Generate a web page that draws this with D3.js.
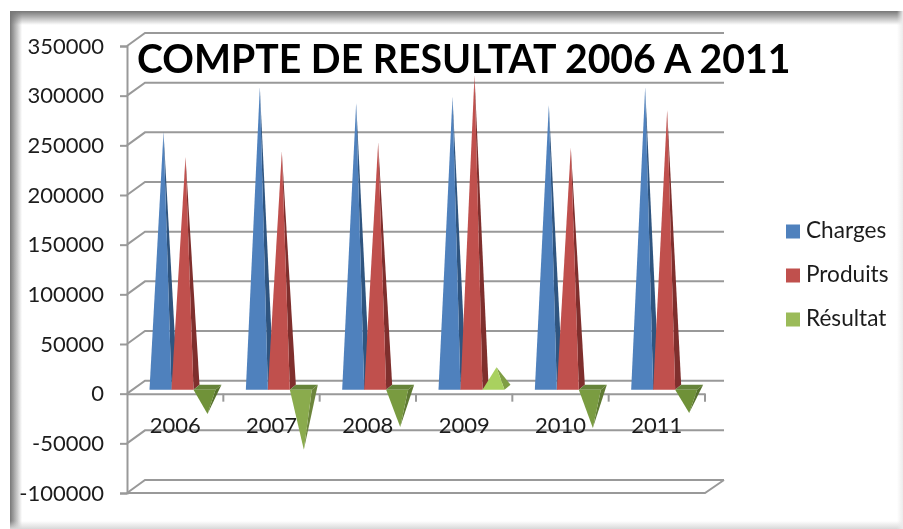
<!DOCTYPE html>
<html>
<head>
<meta charset="utf-8">
<script src="https://cdn.jsdelivr.net/npm/d3@7"></script>
<style>
  html, body { margin: 0; padding: 0; background: #fff; }
  svg { display: block; font-family: Lato, "Open Sans", sans-serif; filter: blur(0.45px); }
  .axis path, .axis line { stroke: #999; stroke-width: 2px; }
  .axis text { fill: #1c1c1c; font-size: 22px; font-family: Lato, sans-serif; }
</style>
</head>
<body>
<script>
//Data
var years = ["2006", "2007", "2008", "2009", "2010", "2011"];
var seriesNames = ["Charges", "Produits", "Résultat"];
var charges = [257000, 302000, 286000, 292000, 284000, 302000];
var produits = [232000, 237000, 246000, 314000, 241000, 279000];
var resultat = [-27000, -63000, -40000, 20000, -41000, -26000];
var yTicks = [-100000, -50000, 0, 50000, 100000, 150000, 200000, 250000, 300000, 350000];

//Width and height
var w = 903;
var h = 529;

//Plot box, and how far the 3D depth pushes things
var left = 127, right = 705, top_ = 46, bottom = 493;
var wallDx = 18, wallDy = -13;
var depthDx = 6, depthDy = -5;
var barOffset = 22.5;

var svg = d3.select("body").append("svg").attr("width", w).attr("height", h);
var defs = svg.append("defs");

//Shadow round the picture frame
function edge(id, x1, y1, x2, y2, from) {
  var g = defs.append("linearGradient").attr("id", id)
    .attr("x1", x1).attr("y1", y1).attr("x2", x2).attr("y2", y2);
  g.append("stop").attr("offset", 0).attr("stop-color", from);
  g.append("stop").attr("offset", 1).attr("stop-color", from).attr("stop-opacity", 0);
}
edge("shadeTop", 0, 0, 0, 1, "#777");
edge("shadeLeft", 0, 0, 1, 0, "#777");
edge("shadeBottom", 0, 1, 0, 0, "#d8d8d8");
edge("shadeRight", 1, 0, 0, 0, "#ececec");

var frame = svg.append("g");
frame.append("rect").attr("x", 10).attr("y", 11).attr("width", w - 10).attr("height", 14).attr("fill", "url(#shadeTop)");
frame.append("rect").attr("x", 10).attr("y", 11).attr("width", 12).attr("height", h - 11).attr("fill", "url(#shadeLeft)");
frame.append("rect").attr("x", 10).attr("y", h - 8).attr("width", w - 10).attr("height", 8).attr("fill", "url(#shadeBottom)");
frame.append("rect").attr("x", w - 6).attr("y", 11).attr("width", 6).attr("height", h - 11).attr("fill", "url(#shadeRight)");

//Create scale functions
var yScale = d3.scaleLinear().domain([-100000, 350000]).range([bottom, top_]);
var xScale = d3.scaleBand().domain(years).range([left, right]);
var xSeries = d3.scaleBand().domain(seriesNames).range([0, 66]);
var colors = d3.scaleOrdinal().domain(seriesNames).range(["#4f81bd", "#c0504d", "#9bbb59"]);
var sideColors = d3.scaleOrdinal().domain(seriesNames).range(["#2f5580", "#7f2f2d", "#5f7a30"]);

//Result cones get lighter the steeper they are, like the lit faces in the picture
var greenFace = d3.scaleLinear().domain([-63000, -26000]).range(["#8aab4d", "#6f9138"]);

//Back wall lines and the short diagonals on the side wall
var walls = svg.append("g").attr("fill", "none").attr("stroke", "#999").attr("stroke-width", 2);
walls.selectAll("path")
  .data(yTicks)
  .enter()
  .append("path")
  .attr("d", function (d) {
    var line = d3.path();
    line.moveTo(left, yScale(d));
    line.lineTo(left + wallDx, yScale(d) + wallDy);
    line.lineTo(right + wallDx + 1, yScale(d) + wallDy);
    return line.toString();
  });

//Bottom front edge
var floor = d3.path();
floor.moveTo(left, bottom);
floor.lineTo(right, bottom);
floor.lineTo(right + wallDx + 1, bottom + wallDy);
walls.append("path").attr("d", floor.toString());

//Create axes
var yAxis = d3.axisLeft(yScale).tickValues(yTicks).tickFormat(function (d) { return String(d); }).tickSize(7).tickPadding(16);
svg.append("g")
  .attr("class", "axis")
  .attr("transform", "translate(" + left + ",0)")
  .call(yAxis);

var xAxis = d3.axisBottom(xScale).tickSize(0).tickPadding(24);
var xG = svg.append("g")
  .attr("class", "axis")
  .attr("transform", "translate(0," + yScale(0) + ")")
  .call(xAxis);

//Category ticks sit on the band edges
xG.selectAll(".edge")
  .data(years)
  .enter()
  .append("line")
  .attr("class", "edge")
  .attr("x1", function (d) { return xScale(d) + xScale.bandwidth(); })
  .attr("x2", function (d) { return xScale(d) + xScale.bandwidth(); })
  .attr("y1", 0)
  .attr("y2", 8);

//One pyramid: front face, side face, and a top face when it points down
function drawPyramid(g, year, name, value) {
  var x0 = xScale(year) + barOffset + xSeries(name);
  var x1 = x0 + xSeries.bandwidth();
  var baseY = yScale(0) - 4;
  var apexX = (x0 + x1) / 2 + depthDx / 2;
  var apexY = yScale(value) - 6.5;
  var front = value < 0 && name === "Résultat" ? greenFace(value) : colors(name);
  var side = value < 0 ? d3.color(front).darker(0.7) : sideColors(name);

  var pts = function (list) { return list.map(function (p) { return p.join(","); }).join(" "); };

  if (name === "Résultat" && value > 0) {
    front = "#a9d15f";
    side = "#7f9e44";
  }

  if (value < 0) {
    g.append("polygon")
      .attr("points", pts([[x0, baseY], [x1, baseY], [x1 + depthDx, baseY + depthDy], [x0 + depthDx, baseY + depthDy]]))
      .attr("fill", "#66843a");
  }
  g.append("polygon")
    .attr("points", pts([[x1, baseY], [x1 + depthDx, baseY + depthDy], [apexX, apexY]]))
    .attr("fill", side);
  g.append("polygon")
    .attr("points", pts([[x0, baseY], [x1, baseY], [apexX, apexY]]))
    .attr("fill", front);
}

//Create pyramids
var marks = svg.append("g");
years.forEach(function (year, i) {
  drawPyramid(marks, year, "Charges", charges[i]);
  drawPyramid(marks, year, "Produits", produits[i]);
  drawPyramid(marks, year, "Résultat", resultat[i]);
});

//Title
svg.append("text")
  .attr("x", 137)
  .attr("y", 73)
  .attr("font-size", 39.2)
  .attr("font-weight", 700)
  .attr("fill", "#000")
  .text("COMPTE DE RESULTAT 2006 A 2011");

//Legend
var legendY = d3.scalePoint().domain(seriesNames).range([231, 319]);
var legend = svg.selectAll(".legend")
  .data(seriesNames)
  .enter()
  .append("g")
  .attr("class", "legend")
  .attr("transform", function (d) { return "translate(786," + legendY(d) + ")"; });

legend.append("rect")
  .attr("x", 0)
  .attr("y", -6.5)
  .attr("width", 14)
  .attr("height", 14)
  .attr("fill", function (d) { return colors(d); });

legend.append("text")
  .attr("x", 20)
  .attr("y", 7)
  .attr("font-size", 22.6)
  .attr("fill", "#1c1c1c")
  .text(function (d) { return d; });
</script>
</body>
</html>
